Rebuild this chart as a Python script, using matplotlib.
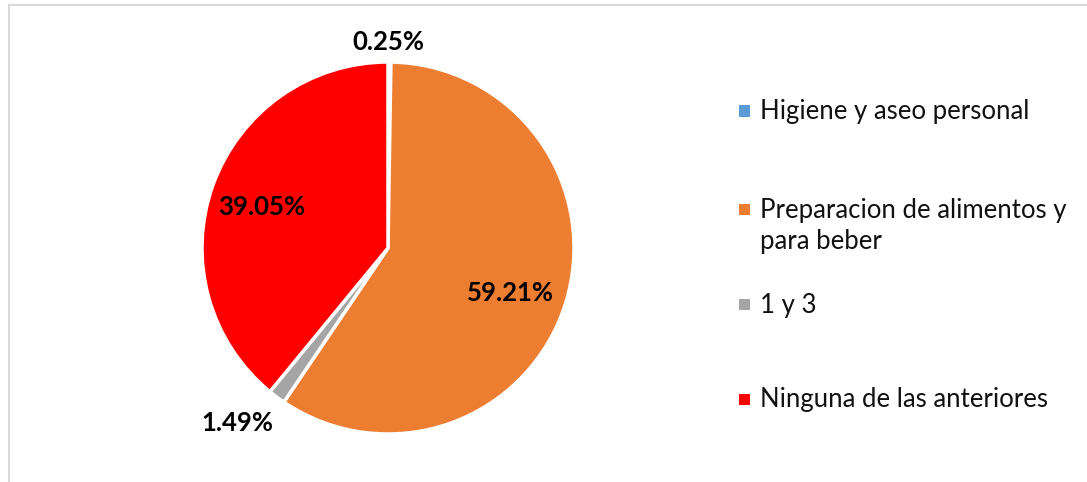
import matplotlib.pyplot as plt
from matplotlib.patches import Rectangle

# datos
categorias = ["Higiene y aseo personal", "Preparacion de alimentos y\npara beber",
              "1 y 3", "Ninguna de las anteriores"]
porcentajes = [0.25, 59.21, 1.49, 39.05]
colores = ["#5B9BD5", "#ED7D31", "#A5A5A5", "#FF0000"]

W, H = 1087, 482
fig = plt.figure(figsize=(W / 100, H / 100), dpi=100)
plt.rcParams['font.family'] = ['Lato', 'DejaVu Sans']

# marco gris del gráfico
fig.patches.append(Rectangle((9 / W, -0.1), 1.1, (H - 5) / H + 0.1, transform=fig.transFigure,
                             fill=False, edgecolor="#D9D9D9", linewidth=1.5))

cx, cy, r = 388, 248, 186
ax = fig.add_axes([(cx - r) / W, (H - cy - r) / H, 2 * r / W, 2 * r / H])
ax.pie(porcentajes, colors=colores, startangle=90, counterclock=False,
       wedgeprops=dict(edgecolor="white", linewidth=2.5))
ax.set_xlim(-1, 1)
ax.set_ylim(-1, 1)

# etiquetas de porcentaje (posiciones en píxeles)
pos_etiquetas = [(388, 42), (510, 293), (237, 423), (262, 207)]
for (px, py), v in zip(pos_etiquetas, porcentajes):
    ax.text((px - cx) / r, (cy - py) / r, f"{v:.2f}%", ha="center", va="center",
            fontsize=18.5, fontweight="bold", color="black")

# leyenda: posición vertical del cuadro y del texto
cuadro_y = [111, 209, 304, 399]
texto_y = [112, 226, 305, 400]
for cat, col, yc, yt in zip(categorias, colores, cuadro_y, texto_y):
    fig.patches.append(Rectangle((739 / W, (H - yc - 5.5) / H), 11 / W, 11 / H,
                                 transform=fig.transFigure, facecolor=col, edgecolor="none"))
    fig.text(760 / W, (H - yt) / H, cat, ha="left", va="center",
             fontsize=18.5, color="#111111", linespacing=1.28)

fig.savefig("out.png", dpi=100)
